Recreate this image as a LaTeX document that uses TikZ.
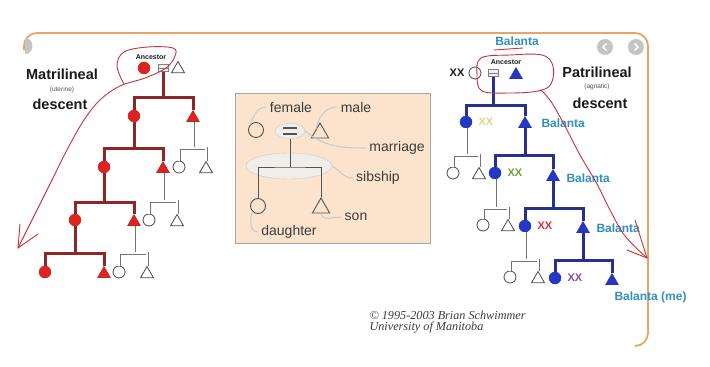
\documentclass[tikz,border=0pt]{standalone}
\usepackage{fontspec}
\setmainfont{Liberation Sans}
\newfontfamily\credfont{Liberation Serif}
\usetikzlibrary{positioning, shapes.geometric, calc}
\definecolor{ink}{HTML}{1A1A1A}
\definecolor{redfill}{HTML}{E0231F}
\definecolor{reddk}{HTML}{8E2626}
\definecolor{bluefill}{HTML}{2338C9}
\definecolor{bluedk}{HTML}{28308F}
\definecolor{pen}{HTML}{C8323C}
\definecolor{balcol}{HTML}{3290BE}
\definecolor{framecol}{HTML}{E9A466}
\definecolor{peach}{HTML}{FBE3CD}
\definecolor{leadgray}{HTML}{C9C9C9}
\definecolor{navgray}{HTML}{C4C4C4}
\definecolor{sibfill}{HTML}{F1EEEA}
\definecolor{xxyel}{HTML}{E2D68A}
\definecolor{xxgrn}{HTML}{6E9A3C}
\definecolor{xxred}{HTML}{D8303A}
\definecolor{xxpur}{HTML}{8A4A9A}
\tikzset{
  fem/.style={circle, inner sep=0pt, minimum size=12pt},
  mal/.style={regular polygon, regular polygon sides=3, inner sep=0pt, minimum size=15pt},
  rf/.style={fem, fill=redfill, draw=redfill!85!black},
  rm/.style={mal, fill=redfill, draw=reddk},
  bf/.style={fem, fill=bluefill, draw=bluefill!80!black},
  bm/.style={mal, fill=bluefill, draw=bluedk},
  wf/.style={fem, fill=white, draw=ink!80, line width=0.8pt},
  wm/.style={mal, fill=white, draw=ink!80, line width=0.8pt},
  mbox/.style={rectangle, draw=gray, fill=gray!10, minimum width=10pt, minimum height=7pt,
    inner sep=0pt, path picture={\draw[gray] (path picture bounding box.west) -- (path picture bounding box.east);}},
  rline/.style={draw=reddk, line width=3pt},
  bline/.style={draw=bluedk, line width=3pt},
  sline/.style={draw=black!55, line width=3pt, postaction={draw=white, line width=1.3pt}},
  title/.style={font=\fontsize{14.5}{16}\selectfont\bfseries, text=ink},
  sub/.style={font=\fontsize{6.5}{7}\selectfont, text=ink!75},
  bal/.style={font=\fontsize{12}{13}\selectfont\bfseries, text=balcol},
  xx/.style={font=\fontsize{11}{12}\selectfont\bfseries},
  anc/.style={font=\fontsize{7}{8}\selectfont\bfseries, text=ink},
  leg/.style={font=\fontsize{14}{15}\selectfont, text=ink!85},
  leader/.style={draw=leadgray, line width=1pt},
  redpen/.style={draw=pen, line width=0.9pt, line cap=round, line join=round},
  cred/.style={font=\credfont\itshape\fontsize{12.2}{13}\selectfont, text=ink!85},
}
\begin{document}
\begin{tikzpicture}[x=1pt, y=-1pt]
  \useasboundingbox (0,0) rectangle (710,367);
  \fill[white] (0,0) rectangle (710,367);

  % frame and buttons
  \draw[framecol, line width=1.8pt, rounded corners=13pt] (24,50) |- (648,33) |- (636,346);
  \begin{scope}
    \clip (25,30) rectangle (45,62);
    \fill[navgray] (24,46) circle (8.5);
  \end{scope}
  \node[circle, fill=navgray, minimum size=16pt, inner sep=0pt] (navl) at (605,47) {};
  \node[circle, fill=navgray, minimum size=16pt, inner sep=0pt] (navr) at (636,47) {};
  \draw[white, line width=1.6pt] ([xshift=1.5pt,yshift=3.5pt]navl.center) -- ([xshift=-2pt]navl.center) -- ([xshift=1.5pt,yshift=-3.5pt]navl.center);
  \draw[white, line width=1.6pt] ([xshift=-1.5pt,yshift=3.5pt]navr.center) -- ([xshift=2pt]navr.center) -- ([xshift=-1.5pt,yshift=-3.5pt]navr.center);

  % matrilineal
  \node[title] (mtl) at (62,74) {Matrilineal};
  \node[sub] (mut) at (62,90) {(uterine)};
  \node[title] (mds) at (60,104) {descent};
  \node[anc] (ranc) at (151,57) {Ancestor};
  \node[rf] (ra) at (144,68) {};
  \node[mbox] (rq) at (163,68) {};
  \node[wm] (rh) at (178,69) {};
  \node[rf] (r1f) at (134,116) {};
  \node[rm] (r1m) at (193,118) {};
  \node[wf] (r1a) at (179,167) {};
  \node[wm] (r1b) at (206,169) {};
  \node[rf] (r2f) at (104,167) {};
  \node[rm] (r2m) at (163,169) {};
  \node[wf] (r2a) at (149,220) {};
  \node[wm] (r2b) at (177,222) {};
  \node[rf] (r3f) at (75,220) {};
  \node[rm] (r3m) at (134,222) {};
  \node[wf] (r3a) at (119,272) {};
  \node[wm] (r3b) at (147,274) {};
  \node[rf] (r4f) at (45,272) {};
  \node[rm] (r4m) at (104,274) {};
  \coordinate (rb1) at (163,97);
  \coordinate (rb2) at (134,148);
  \coordinate (rb3) at (104,202);
  \coordinate (rb4) at (75,253);
  \coordinate (rs1) at (193,148);
  \coordinate (rs2) at (163,201);
  \coordinate (rs3) at (134,253);
  \draw[sline] (r1m.south) -- (rs1); \draw[sline] (r1a.north) |- (rs1) -| (r1b.north);
  \draw[sline] (r2m.south) -- (rs2); \draw[sline] (r2a.north) |- (rs2) -| (r2b.north);
  \draw[sline] (r3m.south) -- (rs3); \draw[sline] (r3a.north) |- (rs3) -| (r3b.north);
  \draw[rline] (rq.south) -- (rb1); \draw[rline] (r1f.north) |- (rb1) -| (r1m.north);
  \draw[rline] (r1f.south) -- (rb2); \draw[rline] (r2f.north) |- (rb2) -| (r2m.north);
  \draw[rline] (r2f.south) -- (rb3); \draw[rline] (r3f.north) |- (rb3) -| (r3m.north);
  \draw[rline] (r3f.south) -- (rb4); \draw[rline] (r4f.north) |- (rb4) -| (r4m.north);

  % legend
  \draw[gray!70, fill=peach, line width=0.8pt] (235,93) rectangle (430,243);
  \node[ellipse, fill=sibfill, draw=leadgray, minimum width=86pt, minimum height=26pt] (lsib) at (289,166) {};
  \node[ellipse, fill=sibfill, draw=leadgray, minimum width=30pt, minimum height=15pt] (leq) at (290,131) {};
  \draw[ink!75, line width=2pt] ($(leq.center)+(-7,-2.6)$) -- ++(14,0) ($(leq.center)+(-7,2.6)$) -- ++(14,0);
  \node[fem, draw=ink!75, line width=0.9pt, minimum size=15pt] (lc) at (256,130) {};
  \node[mal, draw=ink!75, line width=0.9pt, minimum size=20pt] (lt) at (320,133) {};
  \node[fem, draw=ink!75, line width=0.9pt, minimum size=15pt] (lc2) at (258,206) {};
  \node[mal, draw=ink!75, line width=0.9pt, minimum size=20pt] (lt2) at (321,208) {};
  \coordinate (lb) at (290,167);
  \draw[ink!75, line width=1pt] (leq.south) -- (lb);
  \draw[ink!75, line width=1pt] (lc2.north) |- (lb) -| (lt2.north);
  \node[leg] (lfem) at (291,107) {female};
  \node[leg] (lmal) at (356,107) {male};
  \node[leg] (lmar) at (397,148) {marriage};
  \node[leg] (lsbl) at (378,178) {sibship};
  \node[leg] (lson) at (356,217) {son};
  \node[leg] (ldau) at (289,232) {daughter};
  \draw[leader] (lfem.west) to[out=180,in=70] (lc.north west);
  \draw[leader] (lmal.west) to[out=180,in=80] (lt.north west);
  \draw[leader] (leq.east) to[out=-40,in=180] (lmar.west);
  \draw[leader] (lsib.east) to[out=-30,in=180] (lsbl.west);
  \draw[leader] (lt2.south) to[out=-80,in=180] (lson.west);
  \draw[leader] (lc2.south west) to[out=-110,in=180] (ldau.west);

  % patrilineal
  \node[title] (ptl) at (597,72) {Patrilineal};
  \node[sub] (pag) at (597,87) {(agnatic)};
  \node[title] (pds) at (600,103) {descent};
  \node[bal] (pbal0) at (517,41) {Balanta};
  \node[xx, text=ink] (pxx0) at (457,73) {XX};
  \node[anc] (panc) at (506,62) {Ancestor};
  \node[wf] (pa) at (475,73) {};
  \node[mbox] (pq) at (493,73) {};
  \node[bm] (ph) at (516,75) {};
  \node[bf] (p1f) at (466,122) {};
  \node[bm] (p1m) at (525,124) {};
  \node[wf] (pc1) at (453,173) {};
  \node[wm] (pd1) at (479,175) {};
  \node[bf] (p2f) at (495,173) {};
  \node[bm] (p2m) at (553,177) {};
  \node[wf] (pc2) at (483,225) {};
  \node[wm] (pd2) at (508,227) {};
  \node[bf] (p3f) at (525,226) {};
  \node[bm] (p3m) at (583,229) {};
  \node[wf] (pc3) at (510,277) {};
  \node[wm] (pd3) at (538,279) {};
  \node[bf] (p4f) at (555,278) {};
  \node[bm] (p4m) at (612,281) {};
  \coordinate (pb1) at (493,105);
  \coordinate (pb2) at (525,155);
  \coordinate (pb3) at (553,208);
  \coordinate (pb4) at (583,260);
  \coordinate (ps1) at (466,155);
  \coordinate (ps2) at (495,208);
  \coordinate (ps3) at (525,260);
  \draw[sline] (p1f.south) -- (ps1); \draw[sline] (pc1.north) |- (ps1) -| (pd1.north);
  \draw[sline] (p2f.south) -- (ps2); \draw[sline] (pc2.north) |- (ps2) -| (pd2.north);
  \draw[sline] (p3f.south) -- (ps3); \draw[sline] (pc3.north) |- (ps3) -| (pd3.north);
  \draw[bline] (pq.south) -- (pb1); \draw[bline] (p1f.north) |- (pb1) -| (p1m.north);
  \draw[bline] (p1m.south) -- (pb2); \draw[bline] (p2f.north) |- (pb2) -| (p2m.north);
  \draw[bline] (p2m.south) -- (pb3); \draw[bline] (p3f.north) |- (pb3) -| (p3m.north);
  \draw[bline] (p3m.south) -- (pb4); \draw[bline] (p4f.north) |- (pb4) -| (p4m.north);
  \node[xx, text=xxyel, anchor=west] (pxx1) at (475,122) {XX};
  \node[xx, text=xxgrn, anchor=west] (pxx2) at (504,173) {XX};
  \node[xx, text=xxred, anchor=west] (pxx3) at (534,226) {XX};
  \node[xx, text=xxpur, anchor=west] (pxx4) at (564,278) {XX};
  \node[bal, anchor=west] (pbal1) at (538,123) {Balanta};
  \node[bal, anchor=west] (pbal2) at (563,178) {Balanta};
  \node[bal, anchor=west] (pbal3) at (593,228) {Balanta};
  \node[bal, anchor=west] (pbal4) at (611,297) {Balanta (me)};

  % credit
  \node[cred, anchor=west] (cr1) at (366,315) {\textcopyright\ 1995-2003 Brian Schwimmer};
  \node[cred, anchor=west] (cr2) at (366,328) {University of Manitoba};

  % red pen marks
  \draw[redpen] plot[smooth, tension=0.6] coordinates {(124,84) (117,66) (124,52) (148,47) (173,48) (175,56) (166,68) (145,78) (120,86) (100,100) (84,120) (68,148) (52,180) (36,212) (18,248)};
  \draw[redpen] (20,224) -- (18,248) -- (38,234);
  \draw[redpen] plot[smooth cycle, tension=0.6] coordinates {(477,75) (481,58) (510,55) (542,55) (553,66) (551,84) (538,91) (510,93) (482,91)};
  \draw[redpen] plot[smooth, tension=0.6] coordinates {(541,90) (552,103) (567,130) (580,155) (597,184) (610,210) (625,236) (647,258)};
  \draw[redpen] (627,250) -- (647,258) -- (635,220);
  \draw[redpen] (494,50) -- (523,48);
\end{tikzpicture}
\end{document}
